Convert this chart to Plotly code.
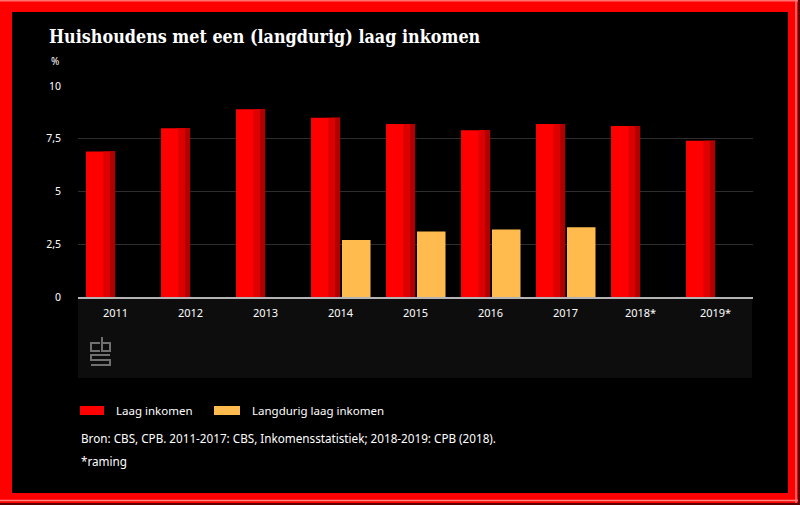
import plotly.graph_objects as go

years = ["2011", "2012", "2013", "2014", "2015", "2016", "2017", "2018*", "2019*"]
laag_inkomen = [6.9, 8.0, 8.9, 8.5, 8.2, 7.9, 8.2, 8.1, 7.4]
langdurig_laag = [None, None, None, 2.7, 3.1, 3.2, 3.3, None, None]
y_ticks = [0, 2.5, 5, 7.5, 10]
y_tick_labels = ["0", "2,5", "5", "7,5", "10"]

W, H = 800, 505
L, R, T, B = 78, 753, 86, 297


def px(x):
    return (x - L) / (R - L)


def py(y):
    return (B - y) / (B - T)


RED = "#ff0000"
ORANGE = "#ffbb4d"
FONT = "Noto Sans"

rw, ro = 0.387, -0.393
fig = go.Figure()
fig.add_trace(go.Bar(x=years, y=laag_inkomen, width=rw, offset=ro,
                     marker=dict(color=RED, line=dict(width=0)), name="Laag inkomen",
                     showlegend=False, hoverinfo="x+y"))
fig.add_trace(go.Bar(x=years, y=laag_inkomen, width=rw * 0.4, offset=ro + rw * 0.6,
                     marker=dict(color="#dc0000", line=dict(width=0)),
                     showlegend=False, hoverinfo="skip"))
fig.add_trace(go.Bar(x=years, y=laag_inkomen, width=rw * 0.17, offset=ro + rw * 0.83,
                     marker=dict(color="#b00000", line=dict(width=0)),
                     showlegend=False, hoverinfo="skip"))
fig.add_trace(go.Bar(x=years, y=langdurig_laag, width=0.38, offset=0.02,
                     marker=dict(color=ORANGE, line=dict(width=0)), name="Langdurig laag inkomen",
                     showlegend=False, hoverinfo="x+y"))

shapes = []
# dark panel under axis
shapes.append(dict(type="rect", xref="paper", yref="paper", x0=px(78), x1=px(752),
                   y0=py(378), y1=py(299), fillcolor="#0d0d0d", line=dict(width=0), layer="below"))
# cbs logo
logo_col = "#707070"
shapes.append(dict(type="path", xref="paper", yref="paper",
                   path="M %f,%f L %f,%f L %f,%f L %f,%f" % (px(100), py(343), px(91), py(343), px(91), py(351), px(100), py(351)),
                   line=dict(color=logo_col, width=2)))
shapes.append(dict(type="path", xref="paper", yref="paper",
                   path="M %f,%f L %f,%f L %f,%f L %f,%f L %f,%f" % (px(102), py(337), px(102), py(351), px(110), py(351), px(110), py(343), px(102), py(343)),
                   line=dict(color=logo_col, width=2)))
shapes.append(dict(type="path", xref="paper", yref="paper",
                   path="M %f,%f L %f,%f L %f,%f L %f,%f L %f,%f L %f,%f" % (px(110), py(355), px(91), py(355), px(91), py(360), px(110), py(360), px(110), py(365), px(91), py(365)),
                   line=dict(color=logo_col, width=2)))
# legend swatches
shapes.append(dict(type="rect", xref="paper", yref="paper", x0=px(80), x1=px(104),
                   y0=py(415), y1=py(406), fillcolor=RED, line=dict(width=0)))
shapes.append(dict(type="rect", xref="paper", yref="paper", x0=px(214), x1=px(240),
                   y0=py(415), y1=py(406), fillcolor=ORANGE, line=dict(width=0)))
# red frame
shapes.append(dict(type="rect", xref="paper", yref="paper", x0=px(6), x1=px(794),
                   y0=py(499), y1=py(6), line=dict(color="#ff0000", width=12), fillcolor="rgba(0,0,0,0)"))
shapes.append(dict(type="line", xref="paper", yref="paper", x0=px(0), x1=px(800),
                   y0=py(0.7), y1=py(0.7), line=dict(color="#ff7070", width=1.5)))
shapes.append(dict(type="line", xref="paper", yref="paper", x0=px(0), x1=px(800),
                   y0=py(500.5), y1=py(500.5), line=dict(color="#ff8080", width=1.5)))
shapes.append(dict(type="line", xref="paper", yref="paper", x0=px(796), x1=px(796),
                   y0=py(0), y1=py(505), line=dict(color="#ff8080", width=1.5)))
shapes.append(dict(type="line", xref="paper", yref="paper", x0=px(0), x1=px(800),
                   y0=py(504), y1=py(504), line=dict(color="#600000", width=2)))
shapes.append(dict(type="line", xref="paper", yref="paper", x0=px(799), x1=px(799),
                   y0=py(0), y1=py(505), line=dict(color="#600000", width=2)))

annotations = [
    dict(text="<b>Huishoudens met een (langdurig) laag inkomen</b>", x=px(47), y=py(37),
         xanchor="left", yanchor="middle", font=dict(family="DejaVu Serif Condensed", size=17.8, color="white")),
    dict(text="%", x=px(49), y=py(61), xanchor="left", yanchor="middle",
         font=dict(family=FONT, size=10, color="white")),
    dict(text="Laag inkomen", x=px(114), y=py(410), xanchor="left", yanchor="middle",
         font=dict(family=FONT, size=11.5, color="white")),
    dict(text="Langdurig laag inkomen", x=px(250), y=py(410), xanchor="left", yanchor="middle",
         font=dict(family=FONT, size=11.5, color="white")),
    dict(text="Bron: CBS, CPB. 2011-2017: CBS, Inkomensstatistiek; 2018-2019: CPB (2018).",
         x=px(79), y=py(438), xanchor="left", yanchor="middle",
         font=dict(family=FONT, size=11.7, color="white")),
    dict(text="*raming", x=px(79), y=py(461), xanchor="left", yanchor="middle",
         font=dict(family=FONT, size=11.7, color="white")),
]
for a in annotations:
    a.update(xref="paper", yref="paper", showarrow=False)

fig.update_layout(
    width=W, height=H,
    margin=dict(l=L, r=W - R, t=T, b=H - B, pad=0),
    paper_bgcolor="black", plot_bgcolor="black",
    barmode="overlay",
    separators=",.",
    shapes=shapes, annotations=annotations,
    showlegend=False,
    xaxis=dict(type="category", showgrid=False, showline=True, linecolor="#b4b4b4", linewidth=2,
               ticks="", tickfont=dict(family=FONT, size=11, color="white"),
               ticklabelstandoff=5, zeroline=False, fixedrange=True),
    yaxis=dict(range=[0, 10], tickvals=y_ticks, ticktext=y_tick_labels, showgrid=True,
               gridcolor="#2e2e2e", gridwidth=1, zeroline=False, showline=False, ticks="",
               tickfont=dict(family=FONT, size=10.5, color="white"), ticklabelstandoff=16,
               fixedrange=True),
)

fig.write_html("out.html", config={"displayModeBar": False},
               post_script="document.body.style.margin='0px';document.body.style.background='black';")
